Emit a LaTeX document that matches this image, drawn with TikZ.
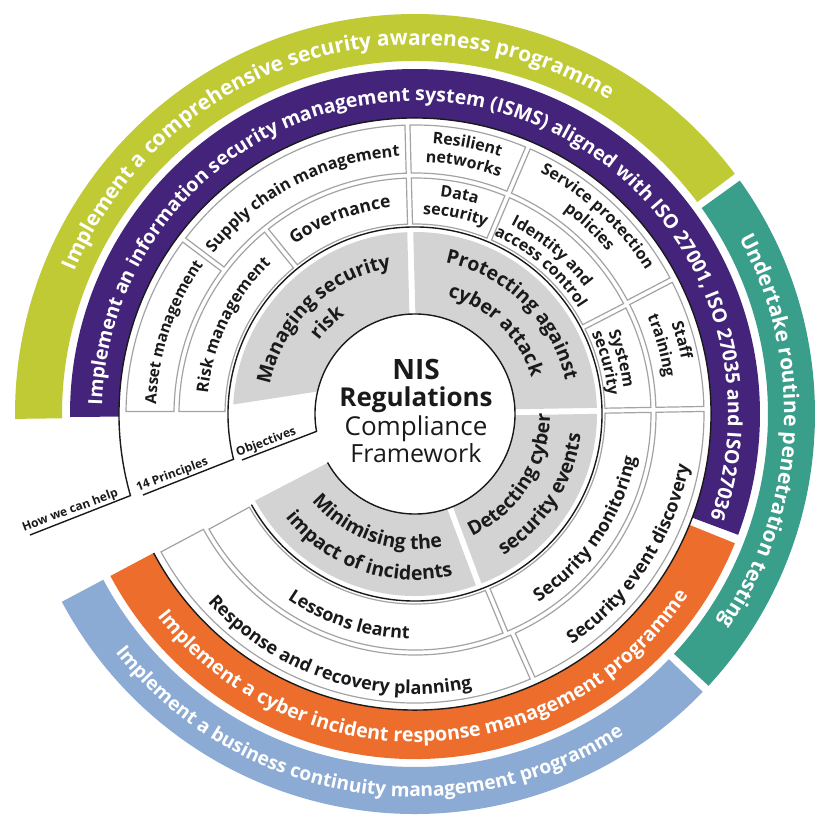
\documentclass[tikz,border=0pt]{standalone}
\usepackage{fontspec}
\setmainfont{Open Sans}
\usetikzlibrary{decorations.text}
\definecolor{cgreen}{HTML}{BFCA35}
\definecolor{cpurple}{HTML}{44247A}
\definecolor{cteal}{HTML}{399E8A}
\definecolor{corange}{HTML}{EC6D2C}
\definecolor{cblue}{HTML}{8CABD4}
\definecolor{cgray}{HTML}{D3D3D3}
\definecolor{boxgray}{HTML}{A3A3A3}
\definecolor{ink}{HTML}{1A1A1A}
\newcommand\bandfmt{\bfseries\fontsize{21}{24}\selectfont}
\newcommand\purplefmt{\bfseries\fontsize{19.5}{22}\selectfont}
\newcommand\orangefmt{\bfseries\fontsize{19.6}{22}\selectfont}
\newcommand\bluefmt{\bfseries\fontsize{19.2}{22}\selectfont}
\newcommand\grayfmt{\bfseries\fontsize{19.5}{22}\selectfont}
\newcommand\boxfmt{\bfseries\fontsize{18}{20}\selectfont}
\newcommand\upfmt{\bfseries\fontsize{16.3}{18}\selectfont}
\newcommand\smallfmt{\bfseries\fontsize{16}{18}\selectfont}
% annular sector fill: color, a1, a2, r1, r2
\newcommand\annsec[5]{\fill[#1] (#2:#4pt) arc[start angle=#2, end angle=#3, radius=#4pt] -- (#3:#5pt) arc[start angle=#3, end angle=#2, radius=#5pt] -- cycle;}
% white box with grey border, inset 2.5px on each side
\newcommand\boxsec[4]{\draw[boxline] ({#1+143/#3}:#3pt) arc[start angle={#1+143/#3}, end angle={#2-143/#3}, radius=#3pt] -- ({#2-143/#4}:#4pt) arc[start angle={#2-143/#4}, end angle={#1+143/#4}, radius=#4pt] -- cycle;}
% grey sector, inset 3px
\newcommand\graysec[4]{\fill[cgray] ({#1+172/#3}:#3pt) arc[start angle={#1+172/#3}, end angle={#2-172/#3}, radius=#3pt] -- ({#2-172/#4}:#4pt) arc[start angle={#2-172/#4}, end angle={#1+172/#4}, radius=#4pt] -- cycle;}
% clockwise text (tops outward): radius, centre angle, half span, colour, format, text
\newcommand\cwtext[6]{\path[decorate, decoration={text along path, text align=center, text color=#4, text={|#5|#6}}] ({#2+#3}:#1pt) arc[start angle={#2+#3}, end angle={#2-#3}, radius=#1pt];}
% counter-clockwise text (tops toward centre)
\newcommand\ccwtext[6]{\path[decorate, decoration={text along path, text align=center, text color=#4, text={|#5|#6}}] ({#2-#3}:#1pt) arc[start angle={#2-#3}, end angle={#2+#3}, radius=#1pt];}
\begin{document}
\begin{tikzpicture}[x=1pt, y=1pt,
  boxline/.style={draw=boxgray, line width=1.2pt, fill=white},
  blk/.style={draw=ink, line width=1.4pt},
  lbl/.style={font=\bfseries\fontsize{12}{14}\selectfont, text=ink, rotate=20.5, anchor=south, inner sep=1.5pt},
  centre/.style={text=ink, anchor=base, inner sep=0pt}]
\useasboundingbox (-415,-421) rectangle (420,414);
\fill[white] (-415,-421) rectangle (420,414);

% ---- outer bands
\annsec{cgreen}{36.9}{180.7}{353}{400}
\annsec{cteal}{-42.8}{35.7}{353}{400}
\annsec{cblue}{-152}{-44}{353}{400}
\annsec{cpurple}{-20.5}{180.5}{296}{345}
\annsec{corange}{-152}{-22}{296}{345}

% ---- black ring at inner edge of bands, ending in the "How we can help" rule
\coordinate (howend) at (-385,-121);
\draw[blk] (-152:296pt) arc[start angle=-152, end angle=196, radius=296pt] -- (howend);

% ---- outer ring of boxes
\boxsec{143}{180}{241}{289}
\boxsec{91.5}{143}{241}{289}
\boxsec{67}{91.5}{241}{289}
\boxsec{27.6}{67}{241}{289}
\boxsec{1}{27.6}{241}{289}
\boxsec{-66}{1}{241}{289}
\boxsec{-152}{-66}{241}{289}
% ---- inner ring of boxes
\boxsec{129}{180}{190}{236}
\boxsec{91.5}{129}{190}{236}
\boxsec{67}{91.5}{190}{236}
\boxsec{27.3}{67}{190}{236}
\boxsec{1}{27.3}{190}{236}
\boxsec{-67.5}{1}{190}{236}
\boxsec{-151.4}{-67.5}{190}{236}

% ---- black ring inside the boxes, ending in the "14 Principles" rule
\coordinate (prinend) at (-272,-81);
\draw[blk] (-151:187pt) arc[start angle=-151, end angle=194, radius=187pt] -- (prinend);

% ---- grey objective sectors
\fill[cgray] (92.44:182pt) arc[start angle=92.44, end angle=177, radius=182pt] -- (167:100pt) arc[start angle=167, end angle=93.2, radius=100pt] -- cycle;
\graysec{1}{91.5}{100}{182}
\graysec{-69.5}{1}{100}{182}
\graysec{-152.5}{-69.5}{100}{182}

% ---- centre circle, ending in the "Objectives" rule
\coordinate (objend) at (-173,-46);
\draw[blk] (-151:100pt) arc[start angle=-151, end angle=190, radius=100pt] -- (objend);

% ---- side labels
\node[lbl] (howlbl) at (-342,-104) {How we can help};
\node[lbl] (prinlbl) at (-240,-68.4) {14 Principles};
\node[lbl] (objlbl) at (-146,-35.6) {Objectives};

% ---- centre title
\node[centre, font=\bfseries\fontsize{28}{30}\selectfont] (nis) at (1,34) {NIS};
\node[centre, font=\bfseries\fontsize{26}{28}\selectfont] (reg) at (1,7) {Regulations};
\node[centre, font=\fontsize{26}{28}\selectfont] (comp) at (1,-21) {Compliance};
\node[centre, font=\fontsize{25}{27}\selectfont] (frame) at (1,-48) {Framework};

% ---- band texts
\cwtext{369}{107.8}{80}{white}{\bandfmt}{Implement a comprehensive security awareness programme}
\cwtext{313}{79.5}{112}{white}{\purplefmt}{Implement an information security management system (ISMS) aligned with ISO 27001, ISO 27035 and ISO27036}
\cwtext{369}{-3}{60}{white}{\bandfmt}{Undertake routine penetration testing}
\ccwtext{328}{-87.7}{80}{white}{\orangefmt}{Implement a cyber incident response management programme}
\ccwtext{383}{-99.2}{80}{white}{\bluefmt}{Implement a business continuity management programme}

% ---- grey sector texts
\cwtext{148}{134}{60}{ink}{\grayfmt}{Managing security}
\cwtext{121}{134}{60}{ink}{\grayfmt}{risk}
\cwtext{154}{45.5}{60}{ink}{\grayfmt}{Protecting against}
\cwtext{122}{46}{60}{ink}{\grayfmt}{cyber attack}
\ccwtext{135}{-32.5}{60}{ink}{\grayfmt}{Detecting cyber}
\ccwtext{167}{-32.5}{60}{ink}{\grayfmt}{security events}
\ccwtext{135}{-109}{60}{ink}{\grayfmt}{Minimising the}
\ccwtext{166}{-109}{60}{ink}{\grayfmt}{impact of incidents}

% ---- box texts, outer ring
\cwtext{259}{161.3}{40}{ink}{\bfseries\fontsize{15.5}{18}\selectfont}{Asset management}
\cwtext{258}{117.4}{50}{ink}{\upfmt}{Supply chain management}
\cwtext{271}{79}{30}{ink}{\smallfmt}{Resilient}
\cwtext{252}{79}{30}{ink}{\smallfmt}{networks}
\cwtext{272}{47.3}{40}{ink}{\smallfmt}{Service protection}
\cwtext{252}{47}{40}{ink}{\smallfmt}{policies}
\cwtext{272}{15.5}{30}{ink}{\smallfmt}{Staff}
\cwtext{252}{15.5}{30}{ink}{\smallfmt}{training}
\ccwtext{279}{-33.2}{50}{ink}{\boxfmt}{Security event discovery}
\ccwtext{280}{-108}{60}{ink}{\boxfmt}{Response and recovery planning}
% ---- box texts, inner ring
\cwtext{208}{154}{50}{ink}{\upfmt}{Risk management}
\cwtext{208}{111}{40}{ink}{\bfseries\fontsize{17.5}{20}\selectfont}{Governance}
\cwtext{219}{78.5}{30}{ink}{\smallfmt}{Data}
\cwtext{200}{78.5}{30}{ink}{\smallfmt}{security}
\cwtext{212}{50}{40}{ink}{\smallfmt}{Identity and}
\cwtext{195}{49.5}{40}{ink}{\smallfmt}{access control}
\cwtext{210}{15}{30}{ink}{\smallfmt}{System}
\cwtext{194}{15}{30}{ink}{\smallfmt}{security}
\ccwtext{225}{-33.9}{50}{ink}{\boxfmt}{Security monitoring}
\ccwtext{225}{-108}{60}{ink}{\boxfmt}{Lessons learnt}
\end{tikzpicture}
\end{document}
